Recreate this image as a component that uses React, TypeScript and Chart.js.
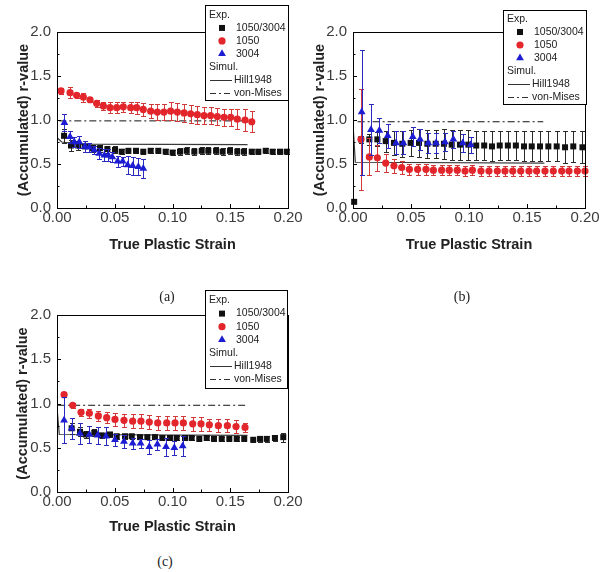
import React, { useEffect, useRef } from "react";
import { Chart, registerables } from "chart.js";

Chart.register(...registerables);

// ---------- shared labels / ticks ----------
const X_TICKS = [0, 0.05, 0.1, 0.15, 0.2];
const Y_TICKS = [0, 0.5, 1.0, 1.5, 2.0];
const X_MINOR = [0.025, 0.075, 0.125, 0.175];
const Y_MINOR = [0.25, 0.75, 1.25, 1.75];
const X_TITLE = "True Plastic Strain";
const Y_TITLE = "(Accumulated) r-value";
const LEG_EXP = "Exp.";
const LEG_SIM = "Simul.";
const SERIES_NAMES = ["1050/3004", "1050", "3004"];
const LINE_NAMES = ["Hill1948", "von-Mises"];
const CAPTIONS = ["(a)", "(b)", "(c)"];

// ---------- panel (a) ----------
const A_MIX_X = [0.0061, 0.0121, 0.0185, 0.0242, 0.0309, 0.0372, 0.0436, 0.0502, 0.056, 0.0618, 0.0684, 0.0747, 0.0811, 0.0877, 0.0941, 0.1001, 0.1065, 0.1123, 0.1189, 0.1253, 0.131, 0.1377, 0.1434, 0.1498, 0.1561, 0.1619, 0.1686, 0.1743, 0.1807, 0.1867, 0.1931, 0.1989];
const A_MIX_Y = [0.82, 0.71, 0.71, 0.7, 0.68, 0.68, 0.67, 0.66, 0.64, 0.65, 0.65, 0.64, 0.65, 0.65, 0.64, 0.63, 0.64, 0.65, 0.64, 0.65, 0.65, 0.65, 0.64, 0.65, 0.64, 0.64, 0.64, 0.64, 0.65, 0.64, 0.64, 0.64];
const A_MIX_E = [0.08, 0.06, 0.05, 0.06, 0.04, 0.04, 0.04, 0.04, 0.03, 0.03, 0.03, 0.03, 0.03, 0.03, 0.03, 0.03, 0.04, 0.04, 0.04, 0.04, 0.04, 0.04, 0.04, 0.04, 0.04, 0.04, 0.03, 0.03, 0.03, 0.03, 0.03, 0.03];
const A_1050_X = [0.0035, 0.0113, 0.017, 0.0228, 0.0286, 0.0343, 0.0401, 0.0459, 0.0517, 0.0574, 0.0638, 0.069, 0.0747, 0.0811, 0.0869, 0.0926, 0.0984, 0.1042, 0.11, 0.1157, 0.1215, 0.1273, 0.133, 0.1388, 0.1446, 0.1504, 0.1561, 0.1628, 0.1686];
const A_1050_Y = [1.33, 1.31, 1.28, 1.26, 1.23, 1.19, 1.16, 1.14, 1.14, 1.15, 1.14, 1.14, 1.12, 1.1, 1.09, 1.09, 1.1, 1.09, 1.08, 1.07, 1.06, 1.05, 1.05, 1.04, 1.03, 1.03, 1.01, 1.0, 0.98];
const A_1050_E = [0.03, 0.06, 0.03, 0.05, 0.03, 0.04, 0.05, 0.06, 0.06, 0.06, 0.06, 0.07, 0.07, 0.08, 0.09, 0.09, 0.1, 0.1, 0.1, 0.1, 0.1, 0.1, 0.1, 0.1, 0.1, 0.1, 0.11, 0.12, 0.12];
const A_3004_X = [0.0064, 0.0113, 0.015, 0.0193, 0.0242, 0.028, 0.0323, 0.0366, 0.041, 0.0444, 0.0479, 0.0525, 0.0569, 0.0612, 0.0655, 0.0704, 0.0747];
const A_3004_Y = [0.97, 0.81, 0.75, 0.75, 0.7, 0.69, 0.66, 0.62, 0.6, 0.6, 0.58, 0.53, 0.53, 0.49, 0.48, 0.47, 0.45];
const A_3004_E = [0.1, 0.07, 0.06, 0.07, 0.06, 0.05, 0.05, 0.06, 0.07, 0.07, 0.06, 0.06, 0.05, 0.1, 0.1, 0.1, 0.11];
const A_HILL_X = [0, 0, 0.004, 0.02, 0.165];
const A_HILL_Y = [0.33, 0.8, 0.75, 0.725, 0.72];
const A_VM_X = [0.002, 0.164];
const A_VM_Y = [0.99, 0.99];

// ---------- panel (b) ----------
const B_MIX_X = [0.001, 0.0069, 0.0141, 0.021, 0.0282, 0.0353, 0.0425, 0.0497, 0.0569, 0.0641, 0.0713, 0.0784, 0.0851, 0.0922, 0.0994, 0.1062, 0.1131, 0.1198, 0.1265, 0.1335, 0.1404, 0.1474, 0.1541, 0.1612, 0.1684, 0.1756, 0.1828, 0.1899, 0.1978];
const B_MIX_Y = [0.07, 0.78, 0.78, 0.78, 0.76, 0.74, 0.73, 0.74, 0.74, 0.73, 0.73, 0.73, 0.72, 0.72, 0.72, 0.71, 0.71, 0.7, 0.71, 0.71, 0.71, 0.7, 0.7, 0.7, 0.7, 0.7, 0.69, 0.7, 0.69];
const B_MIX_E = [0, 0.04, 0.06, 0.08, 0.12, 0.14, 0.15, 0.15, 0.16, 0.16, 0.16, 0.17, 0.17, 0.17, 0.17, 0.17, 0.17, 0.17, 0.17, 0.17, 0.17, 0.17, 0.17, 0.17, 0.17, 0.17, 0.18, 0.18, 0.18];
const B_1050_X = [0.0069, 0.0141, 0.021, 0.0282, 0.0353, 0.042, 0.0486, 0.0557, 0.0629, 0.0693, 0.0764, 0.083, 0.0899, 0.0966, 0.1029, 0.1103, 0.1172, 0.1244, 0.131, 0.1377, 0.1446, 0.1517, 0.1583, 0.1655, 0.1727, 0.1799, 0.1862, 0.1934, 0.2];
const B_1050_Y = [0.78, 0.58, 0.57, 0.51, 0.48, 0.46, 0.44, 0.44, 0.44, 0.43, 0.43, 0.43, 0.43, 0.42, 0.43, 0.42, 0.42, 0.42, 0.42, 0.42, 0.42, 0.42, 0.42, 0.42, 0.42, 0.42, 0.42, 0.42, 0.42];
const B_1050_E = [0.57, 0.21, 0.15, 0.1, 0.08, 0.07, 0.06, 0.06, 0.06, 0.06, 0.06, 0.06, 0.06, 0.06, 0.06, 0.06, 0.06, 0.06, 0.06, 0.06, 0.06, 0.06, 0.06, 0.06, 0.06, 0.06, 0.06, 0.06, 0.06];
const B_3004_X = [0.0075, 0.0155, 0.0227, 0.0299, 0.0371, 0.0434, 0.0515, 0.0578, 0.0649, 0.0716, 0.0793, 0.0865, 0.0946, 0.1015];
const B_3004_Y = [1.09, 0.89, 0.88, 0.82, 0.74, 0.74, 0.81, 0.78, 0.74, 0.74, 0.75, 0.78, 0.74, 0.72];
const B_3004_E = [0.71, 0.29, 0.14, 0.14, 0.13, 0.13, 0.11, 0.12, 0.11, 0.11, 0.1, 0.1, 0.1, 0.09];
const B_HILL_X = [0, 0.002, 0.165];
const B_HILL_Y = [0.95, 0.52, 0.51];
const B_VM_X = [0.004, 0.164];
const B_VM_Y = [0.98, 0.98];

// ---------- panel (c) ----------
const C_MIX_X = [0.0127, 0.0199, 0.0251, 0.0323, 0.0387, 0.0459, 0.0517, 0.0589, 0.0647, 0.0719, 0.0782, 0.0848, 0.0912, 0.0978, 0.1036, 0.1108, 0.1166, 0.1232, 0.1296, 0.1359, 0.1426, 0.1492, 0.1556, 0.1621, 0.1699, 0.1758, 0.1816, 0.1887, 0.1959];
const C_MIX_Y = [0.72, 0.68, 0.65, 0.67, 0.64, 0.65, 0.63, 0.63, 0.63, 0.62, 0.62, 0.62, 0.61, 0.61, 0.61, 0.61, 0.61, 0.6, 0.61, 0.6, 0.6, 0.6, 0.6, 0.6, 0.59, 0.6, 0.6, 0.61, 0.62];
const C_MIX_E = [0.06, 0.05, 0.04, 0.04, 0.03, 0.03, 0.03, 0.03, 0.03, 0.02, 0.02, 0.02, 0.02, 0.02, 0.02, 0.02, 0.02, 0.02, 0.02, 0.02, 0.02, 0.02, 0.02, 0.02, 0.03, 0.03, 0.03, 0.03, 0.05];
const C_1050_X = [0.0061, 0.0136, 0.0208, 0.028, 0.0358, 0.043, 0.0502, 0.058, 0.0655, 0.0727, 0.0799, 0.0872, 0.095, 0.1022, 0.1094, 0.1175, 0.1247, 0.1319, 0.1397, 0.1475, 0.155, 0.1628];
const C_1050_Y = [1.1, 0.98, 0.9, 0.89, 0.86, 0.84, 0.82, 0.81, 0.8, 0.8, 0.79, 0.78, 0.78, 0.78, 0.78, 0.77, 0.77, 0.76, 0.75, 0.75, 0.74, 0.73];
const C_1050_E = [0.03, 0.03, 0.04, 0.05, 0.06, 0.06, 0.07, 0.07, 0.08, 0.08, 0.08, 0.08, 0.08, 0.08, 0.08, 0.08, 0.08, 0.07, 0.07, 0.07, 0.07, 0.05];
const C_3004_X = [0.0061, 0.0127, 0.0199, 0.028, 0.0352, 0.0424, 0.0502, 0.058, 0.0655, 0.0724, 0.0799, 0.0869, 0.0944, 0.1016, 0.1088];
const C_3004_Y = [0.81, 0.72, 0.66, 0.65, 0.64, 0.63, 0.59, 0.57, 0.55, 0.55, 0.51, 0.54, 0.51, 0.5, 0.52];
const C_3004_E = [0.26, 0.12, 0.12, 0.1, 0.1, 0.1, 0.07, 0.07, 0.06, 0.05, 0.08, 0.06, 0.1, 0.08, 0.11];
const C_HILL_X = [0, 0.002, 0.165];
const C_HILL_Y = [0.95, 0.65, 0.64];
const C_VM_X = [0.001, 0.164];
const C_VM_Y = [0.98, 0.98];

// ---------- styles ----------
const FONT = "'Liberation Sans', Arial, sans-serif";
const C_BLACK = "#111111";
const C_RED = "#e2262b";
const C_BLUE = "#1c1cd2";
const E_BLACK = "#2a2a2a";
const E_RED = "#d23a3a";
const E_BLUE = "#2a2ac0";

const pts = (xs: number[], ys: number[]) => xs.map((x, i) => ({ x, y: ys[i] }));

type PanelDef = {
  mix: [number[], number[], number[]];
  r1050: [number[], number[], number[]];
  r3004: [number[], number[], number[]];
  hill: [number[], number[]];
  vm: [number[], number[]];
  padTop: number;
  padRight: number;
  xAxisH: number;
  xTitlePad: number;
  yTitlePad: number;
  legend: { x: number; y: number; w: number; h: number; y0: number; gap: number };
};

const PANELS: PanelDef[] = [
  {
    mix: [A_MIX_X, A_MIX_Y, A_MIX_E],
    r1050: [A_1050_X, A_1050_Y, A_1050_E],
    r3004: [A_3004_X, A_3004_Y, A_3004_E],
    hill: [A_HILL_X, A_HILL_Y],
    vm: [A_VM_X, A_VM_Y],
    padTop: 32, padRight: 22, xAxisH: 62, xTitlePad: 16, yTitlePad: 15,
    legend: { x: 205, y: 5, w: 83, h: 95, y0: 15, gap: 12.95 },
  },
  {
    mix: [B_MIX_X, B_MIX_Y, B_MIX_E],
    r1050: [B_1050_X, B_1050_Y, B_1050_E],
    r3004: [B_3004_X, B_3004_Y, B_3004_E],
    hill: [B_HILL_X, B_HILL_Y],
    vm: [B_VM_X, B_VM_Y],
    padTop: 32, padRight: 23, xAxisH: 62, xTitlePad: 16, yTitlePad: 15,
    legend: { x: 207, y: 10, w: 83, h: 94, y0: 19, gap: 13 },
  },
  {
    mix: [C_MIX_X, C_MIX_Y, C_MIX_E],
    r1050: [C_1050_X, C_1050_Y, C_1050_E],
    r3004: [C_3004_X, C_3004_Y, C_3004_E],
    hill: [C_HILL_X, C_HILL_Y],
    vm: [C_VM_X, C_VM_Y],
    padTop: 32, padRight: 22, xAxisH: 61, xTitlePad: 17, yTitlePad: 14,
    legend: { x: 205, y: 7, w: 82, h: 98, y0: 17.5, gap: 13.1 },
  },
];

function drawMarker(ctx: CanvasRenderingContext2D, kind: string, x: number, y: number, color: string) {
  ctx.fillStyle = color;
  ctx.beginPath();
  if (kind === "rect") {
    ctx.rect(x - 3, y - 3, 6, 6);
  } else if (kind === "circle") {
    ctx.arc(x, y, 3.6, 0, Math.PI * 2);
  } else {
    ctx.moveTo(x, y - 4.5);
    ctx.lineTo(x + 3.9, y + 2.25);
    ctx.lineTo(x - 3.9, y + 2.25);
    ctx.closePath();
  }
  ctx.fill();
}

const errorBarPlugin = {
  id: "errbars",
  beforeDatasetDraw(chart: any, args: any) {
    const ds: any = chart.data.datasets[args.index];
    if (!ds.errors) return;
    const xs = chart.scales.x;
    const ys = chart.scales.y;
    const ctx: CanvasRenderingContext2D = chart.ctx;
    ctx.save();
    ctx.strokeStyle = ds.errorColor;
    ctx.lineWidth = 1;
    ds.data.forEach((p: any, i: number) => {
      const e = ds.errors[i];
      if (!e) return;
      const px = Math.round(xs.getPixelForValue(p.x)) + 0.5;
      const top = Math.round(ys.getPixelForValue(p.y + e)) + 0.5;
      const bot = Math.round(ys.getPixelForValue(p.y - e)) + 0.5;
      const cap = 2.5;
      ctx.beginPath();
      ctx.moveTo(px, top);
      ctx.lineTo(px, bot);
      ctx.moveTo(px - cap, top);
      ctx.lineTo(px + cap, top);
      ctx.moveTo(px - cap, bot);
      ctx.lineTo(px + cap, bot);
      ctx.stroke();
    });
    ctx.restore();
  },
};

function makeDecorPlugin(panel: PanelDef) {
  return {
    id: "decor",
    afterDraw(chart: any) {
      const ctx: CanvasRenderingContext2D = chart.ctx;
      const a = chart.chartArea;
      const xs = chart.scales.x;
      const ys = chart.scales.y;
      ctx.save();
      // frame
      ctx.strokeStyle = "#000";
      ctx.lineWidth = 1;
      ctx.strokeRect(Math.round(a.left) + 0.5, Math.round(a.top) + 0.5, Math.round(a.right - a.left), Math.round(a.bottom - a.top));
      // inward ticks
      ctx.beginPath();
      X_TICKS.forEach((v) => {
        const px = Math.round(xs.getPixelForValue(v)) + 0.5;
        ctx.moveTo(px, a.bottom);
        ctx.lineTo(px, a.bottom - 4);
      });
      X_MINOR.forEach((v) => {
        const px = Math.round(xs.getPixelForValue(v)) + 0.5;
        ctx.moveTo(px, a.bottom);
        ctx.lineTo(px, a.bottom - 2.5);
      });
      Y_TICKS.forEach((v) => {
        const py = Math.round(ys.getPixelForValue(v)) + 0.5;
        ctx.moveTo(a.left, py);
        ctx.lineTo(a.left + 4, py);
      });
      Y_MINOR.forEach((v) => {
        const py = Math.round(ys.getPixelForValue(v)) + 0.5;
        ctx.moveTo(a.left, py);
        ctx.lineTo(a.left + 2.5, py);
      });
      ctx.stroke();

      // legend
      const L = panel.legend;
      ctx.fillStyle = "#fff";
      ctx.fillRect(L.x, L.y, L.w, L.h);
      ctx.strokeStyle = "#000";
      ctx.strokeRect(L.x + 0.5, L.y + 0.5, L.w, L.h);
      ctx.font = `10.5px ${FONT}`;
      ctx.textBaseline = "middle";
      ctx.textAlign = "left";
      const ry = (i: number) => L.y0 + i * L.gap;
      ctx.fillStyle = "#222";
      ctx.fillText(LEG_EXP, L.x + 4, ry(0));
      const kinds = ["rect", "circle", "triangle"];
      const cols = [C_BLACK, C_RED, C_BLUE];
      SERIES_NAMES.forEach((name, i) => {
        drawMarker(ctx, kinds[i], L.x + 17, ry(i + 1), cols[i]);
        ctx.fillStyle = "#222";
        ctx.fillText(name, L.x + 31, ry(i + 1));
      });
      ctx.fillText(LEG_SIM, L.x + 4, ry(4));
      ctx.strokeStyle = "#333";
      ctx.lineWidth = 1;
      ctx.beginPath();
      ctx.moveTo(L.x + 5, Math.round(ry(5)) + 0.5);
      ctx.lineTo(L.x + 27, Math.round(ry(5)) + 0.5);
      ctx.stroke();
      ctx.fillText(LINE_NAMES[0], L.x + 29, ry(5));
      ctx.setLineDash([6, 3, 2, 3]);
      ctx.beginPath();
      ctx.moveTo(L.x + 5, Math.round(ry(6)) + 0.5);
      ctx.lineTo(L.x + 27, Math.round(ry(6)) + 0.5);
      ctx.stroke();
      ctx.setLineDash([]);
      ctx.fillText(LINE_NAMES[1], L.x + 29, ry(6));
      ctx.restore();
    },
  };
}

function buildConfig(panel: PanelDef): any {
  const tickFont = { family: FONT, size: 15 };
  const titleFont = { family: FONT, size: 14.5, weight: "bold" as const };
  return {
    type: "scatter",
    data: {
      datasets: [
        {
          label: SERIES_NAMES[2],
          data: pts(panel.r3004[0], panel.r3004[1]),
          errors: panel.r3004[2],
          errorColor: E_BLUE,
          pointStyle: "triangle",
          pointRadius: 4.5,
          backgroundColor: C_BLUE,
          borderColor: C_BLUE,
          borderWidth: 0,
          clip: false,
          order: 0,
        },
        {
          label: SERIES_NAMES[1],
          data: pts(panel.r1050[0], panel.r1050[1]),
          errors: panel.r1050[2],
          errorColor: E_RED,
          pointStyle: "circle",
          pointRadius: 3.6,
          backgroundColor: C_RED,
          borderColor: C_RED,
          borderWidth: 0,
          clip: false,
          order: 1,
        },
        {
          label: SERIES_NAMES[0],
          data: pts(panel.mix[0], panel.mix[1]),
          errors: panel.mix[2],
          errorColor: E_BLACK,
          pointStyle: "rect",
          pointRadius: 4.25,
          backgroundColor: C_BLACK,
          borderColor: C_BLACK,
          borderWidth: 0,
          clip: false,
          order: 2,
        },
        {
          label: LINE_NAMES[0],
          data: pts(panel.hill[0], panel.hill[1]),
          showLine: true,
          pointRadius: 0,
          borderColor: "#3a3a3a",
          borderWidth: 1.2,
          tension: 0,
          order: 3,
        },
        {
          label: LINE_NAMES[1],
          data: pts(panel.vm[0], panel.vm[1]),
          showLine: true,
          pointRadius: 0,
          borderColor: "#111",
          borderWidth: 1,
          borderDash: [7, 3, 2, 3],
          tension: 0,
          order: 4,
        },
      ],
    },
    options: {
      responsive: false,
      animation: false,
      devicePixelRatio: 1,
      events: [],
      layout: { padding: { top: panel.padTop, right: panel.padRight, left: 0, bottom: 0 } },
      plugins: { legend: { display: false }, tooltip: { enabled: false } },
      scales: {
        x: {
          type: "linear",
          min: 0,
          max: 0.2,
          afterFit: (s: any) => {
            s.height = panel.xAxisH;
          },
          afterBuildTicks: (s: any) => {
            s.ticks = X_TICKS.map((v) => ({ value: v }));
          },
          grid: { display: false, drawTicks: false },
          border: { display: false },
          ticks: {
            padding: 1,
            autoSkip: false,
            maxRotation: 0,
            font: tickFont,
            color: "#3c3c3c",
            callback: (v: any) => Number(v).toFixed(2),
          },
          title: {
            display: true,
            text: X_TITLE,
            font: titleFont,
            color: "#222",
            padding: { top: 0, bottom: panel.xTitlePad },
          },
        },
        y: {
          type: "linear",
          min: 0,
          max: 2,
          afterFit: (s: any) => {
            s.width = 57;
          },
          afterBuildTicks: (s: any) => {
            s.ticks = Y_TICKS.map((v) => ({ value: v }));
          },
          grid: { display: false, drawTicks: false },
          border: { display: false },
          ticks: {
            padding: 6,
            autoSkip: false,
            font: tickFont,
            color: "#3c3c3c",
            callback: (v: any) => Number(v).toFixed(1),
          },
          title: {
            display: true,
            text: Y_TITLE,
            font: titleFont,
            color: "#222",
            padding: { top: panel.yTitlePad, bottom: 0 },
          },
        },
      },
    },
    plugins: [errorBarPlugin, makeDecorPlugin(panel)],
  };
}

function PanelChart({ panel, left, top, width, height }: { panel: PanelDef; left: number; top: number; width: number; height: number }) {
  const ref = useRef<HTMLCanvasElement>(null);
  useEffect(() => {
    const chart = new Chart(ref.current as HTMLCanvasElement, buildConfig(panel));
    return () => chart.destroy();
  }, [panel]);
  return (
    <div style={{ position: "absolute", left, top, width, height }}>
      <canvas ref={ref} width={width} height={height} style={{ width, height, display: "block" }} />
    </div>
  );
}

const captionStyle = (x: number, y: number): React.CSSProperties => ({
  position: "absolute",
  left: x,
  top: y,
  transform: "translate(-50%, -50%)",
  fontFamily: "'Liberation Serif', 'DejaVu Serif', serif",
  fontSize: 14,
  color: "#222",
  whiteSpace: "nowrap",
});

export default function App() {
  return (
    <div style={{ position: "absolute", left: 0, top: 0, width: 608, height: 572, background: "#fff", overflow: "hidden" }}>
      <PanelChart panel={PANELS[0]} left={0} top={0} width={310} height={270} />
      <PanelChart panel={PANELS[1]} left={296} top={0} width={312} height={270} />
      <PanelChart panel={PANELS[2]} left={0} top={283} width={310} height={270} />
      <span style={captionStyle(167, 297)}>{CAPTIONS[0]}</span>
      <span style={captionStyle(462, 297)}>{CAPTIONS[1]}</span>
      <span style={captionStyle(165, 562)}>{CAPTIONS[2]}</span>
    </div>
  );
}
